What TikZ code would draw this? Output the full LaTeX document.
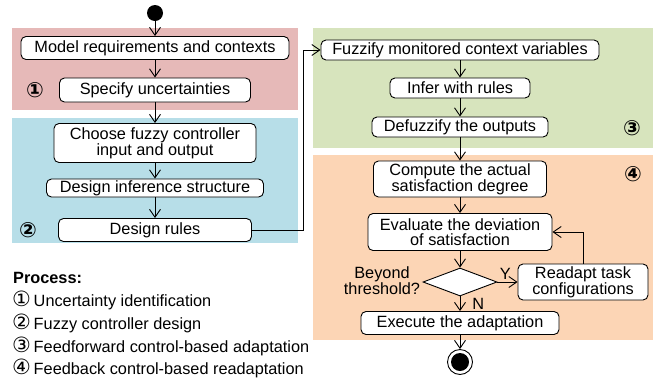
\documentclass[tikz,border=0pt]{standalone}
\usepackage{fontspec}
\setmainfont{Liberation Sans}
\newfontfamily\circfont{DejaVu Sans}
\usetikzlibrary{arrows.meta}
\usetikzlibrary{shapes}
\usetikzlibrary{backgrounds}
\definecolor{redzone}{HTML}{E6B9B8}
\definecolor{bluezone}{HTML}{B7DEE8}
\definecolor{greenzone}{HTML}{D7E4BD}
\definecolor{orangezone}{HTML}{FCD5B5}
\newcommand{\circnum}[1]{{\circfont\fontsize{21bp}{15bp}\selectfont #1}}

\begin{document}
\begin{tikzpicture}[x=1bp,y=-1bp,
  font=\fontsize{16.3bp}{15bp}\selectfont,
  act/.style={draw, rounded corners=5bp, line width=0.9bp, fill=white, align=center, inner sep=0pt},
  flow/.style={-{Straight Barb[length=8bp,width=11bp]}, line width=0.9bp},
  num/.style={font=\circfont\bfseries\fontsize{21bp}{21bp}\selectfont, inner sep=0pt},
  legend/.style={anchor=base west, inner sep=0pt}]
\useasboundingbox (0,0) rectangle (667,380);
\fill [redzone] (12,28) rectangle (298,110);
\fill [bluezone] (12,118) rectangle (298,243);
\fill [greenzone] (313,28) rectangle (653,148);
\fill [orangezone] (313,155) rectangle (653,340);
\node [circle, fill, minimum size=16bp, inner sep=0pt] (start) at (155,13) {};
\node [act, minimum width=268bp, minimum height=23bp] (model) at (155,48) {Model requirements and contexts};
\node [act, minimum width=191bp, minimum height=24bp] (spec) at (155,90) {Specify uncertainties};
\node [act, minimum width=202bp, minimum height=39bp] (choose) at (155,143) {Choose fuzzy controller\\input and output};
\node [act, minimum width=217bp, minimum height=18bp] (infstruct) at (155,188) {Design inference structure};
\node [act, minimum width=193bp, minimum height=23bp] (rules) at (155,230) {Design rules};
\node [act, minimum width=278bp, minimum height=20bp] (fuzzify) at (460,50) {Fuzzify monitored context variables};
\node [act, minimum width=140bp, minimum height=20bp] (infer) at (460,88) {Infer with rules};
\node [act, minimum width=176bp, minimum height=20bp] (defuzz) at (460,127) {Defuzzify the outputs};
\node [act, minimum width=173bp, minimum height=36bp] (compute) at (460,179) {Compute the actual\\satisfaction degree};
\node [act, minimum width=184bp, minimum height=37bp] (evaluate) at (460,232) {Evaluate the deviation\\of satisfaction};
\node [draw, diamond, fill=white, aspect=2.6, minimum width=74bp, minimum height=28bp, inner sep=0pt, line width=0.9bp] (check) at (460,282) {};
\node [align=center, inner sep=0pt] (beyond) at (382,281) {Beyond\\threshold?};
\node [act, minimum width=130bp, minimum height=36bp] (readapt) at (583,282) {Readapt task\\configurations};
\node [act, minimum width=198bp, minimum height=23bp] (exec) at (460,323) {Execute the adaptation};
\node [circle, draw, line width=0.9bp, minimum size=25bp, inner sep=0pt] (stop) at (460,362) {};
\fill (stop.center) circle (9bp);
\coordinate (bend) at (303,50);
\draw [flow] (start) -- (model);
\draw [flow] (model) -- (spec);
\draw [flow] (spec) -- (choose);
\draw [flow] (choose) -- (infstruct);
\draw [flow] (infstruct) -- (rules);
\draw [flow] (rules.east) -| (bend) -- (fuzzify.west);
\draw [flow] (fuzzify) -- (infer);
\draw [flow] (infer) -- (defuzz);
\draw [flow] (defuzz) -- (compute);
\draw [flow] (compute) -- (evaluate);
\draw [flow] (evaluate) -- (check);
\draw [flow] (check.east) -- (readapt.west) node [pos=0, anchor=south west, inner sep=2bp] {Y};
\draw [flow] (readapt.north) |- (evaluate.east);
\draw [flow] (check.south) -- (exec.north) node [midway, anchor=west, inner sep=0pt, xshift=12bp] {N};
\draw [flow] (exec) -- (stop);
\node [num] (one) at (35,90) {①};
\node [num] (two) at (28,230) {②};
\node [num] (three) at (632,128) {③};
\node [num] (four) at (633,174) {④};
\node [legend, font=\fontsize{16.3bp}{15bp}\selectfont\bfseries] (proc) at (13,283) {Process:};
\node [legend] (leg1) at (12,306) {\circnum{①}\,Uncertainty identification};
\node [legend] (leg2) at (12,329) {\circnum{②}\,Fuzzy controller design};
\node [legend] (leg3) at (12,352) {\circnum{③}\,Feedforward control-based adaptation};
\node [legend] (leg4) at (12,374) {\circnum{④}\,Feedback control-based readaptation};
\end{tikzpicture}
\end{document}
